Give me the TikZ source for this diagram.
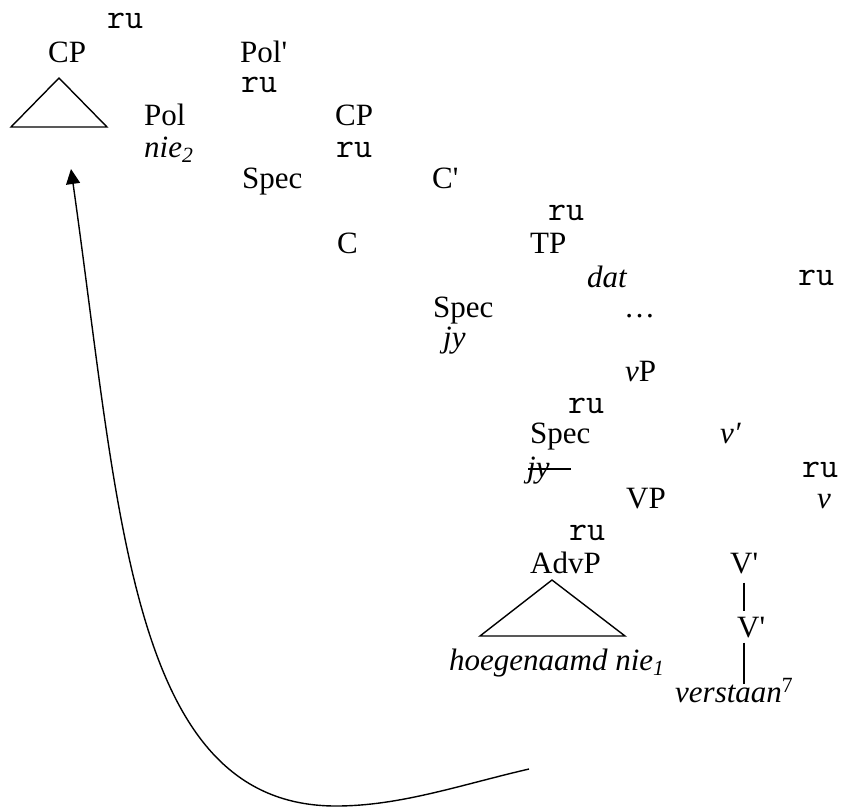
\documentclass[tikz,border=0pt]{standalone}
\usepackage{fontspec}
\setmainfont{Liberation Serif}
\usetikzlibrary{arrows.meta}
\newcommand{\apos}{\textquotesingle}

\begin{document}
\begin{tikzpicture}[x=1pt, y=-1pt, >={Triangle[length=15pt,width=14pt]},
  lbl/.style={anchor=base west, inner sep=0pt, font=\fontsize{31}{37}\selectfont},
  br/.style={lbl, font=\fontsize{35}{40}\selectfont\ttfamily},
  ln/.style={line width=1.4pt}]

  \useasboundingbox (0,0) rectangle (843,809);

  % Pol' layer
  \node[br] (ru1) at (107,28) {ru};
  \node[lbl] (cp1) at (48,62) {CP};
  \node[lbl] (polbar) at (240,62) {Pol\apos};
  \node[br] (ru2) at (241,92) {ru};
  \node[lbl] (pol) at (144,125) {Pol};
  \node[lbl] (cp2) at (335,125) {CP};
  \node[lbl] (nie2) at (144,157) {\textit{nie\textsubscript{2}}};
  \node[br] (ru3) at (336,157) {ru};

  % CP / TP layer
  \node[lbl] (spec1) at (242,188) {Spec};
  \node[lbl] (cbar) at (432,188) {C\apos};
  \node[br] (ru4) at (548,220) {ru};
  \node[lbl] (c) at (337,253) {C};
  \node[lbl] (tp) at (530,253) {TP};
  \node[lbl] (dat) at (587,287) {\textit{dat}};
  \node[br] (ru5) at (798,285) {ru};
  \node[lbl] (spec2) at (433,317) {Spec};
  \node[lbl] (dots) at (624,317) {…};
  \node[lbl] (jy1) at (443,347) {\textit{jy}};

  % vP / VP layer
  \node[lbl] (vp) at (625,381) {\textit{v}P};
  \node[br] (ru6) at (568,413) {ru};
  \node[lbl] (spec3) at (530,443) {Spec};
  \node[lbl] (vbar) at (720,443) {\textit{v′}};
  \node[lbl] (jy2) at (527,477) {\textit{jy}};
  \node[br] (ru7) at (802,477) {ru};
  \node[lbl] (vp2) at (626,508) {VP};
  \node[lbl] (v) at (817,508) {\textit{v}};
  \node[br] (ru8) at (569,540) {ru};
  \node[lbl] (advp) at (530,573) {AdvP};
  \node[lbl] (vbara) at (730,573) {V\apos};
  \node[lbl] (vbarb) at (737,637) {V\apos};
  \node[lbl] (hoeg) at (449,670) {\textit{hoegenaamd nie\textsubscript{1}}};
  \node[lbl] (verst) at (675,702) {\textit{verstaan}\textsuperscript{7}};

  % triangles
  \coordinate (tria) at (59,78);
  \coordinate (trial) at (11,127);
  \coordinate (triar) at (107,127);
  \coordinate (trib) at (552,580);
  \coordinate (tribl) at (480,636);
  \coordinate (tribr) at (625,636);
  \draw[ln, line join=miter] (tria) -- (trial) -- (triar) -- cycle;
  \draw[ln, line join=miter] (trib) -- (tribl) -- (tribr) -- cycle;

  % strike-through and bars
  \draw[ln] ([xshift=1pt,yshift=8pt]jy2.base west) -- ++(43,0);
  \draw[ln] (vbara.south) ++(0,9) -- ++(0,28);
  \draw[ln] (vbarb.south -| vbara.south) ++(0,5) -- ++(0,41);

  % movement arrow
  \coordinate (trace) at (529,769);
  \coordinate (low) at (336,806);
  \coordinate (goal) at (71,169);
  \draw[ln, ->] (trace) .. controls (460,785) and (400,806) .. (low)
    .. controls (130,806) and (120,516) .. (goal);
\end{tikzpicture}
\end{document}
